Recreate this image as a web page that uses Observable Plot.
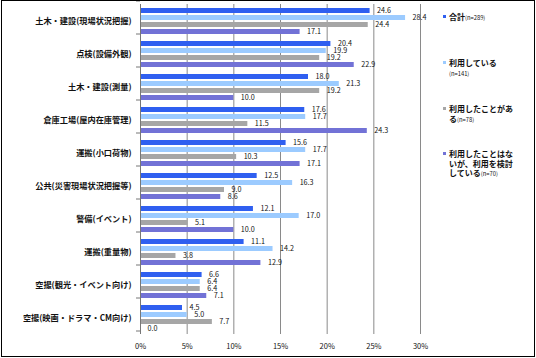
<!DOCTYPE html>
<html><head><meta charset="utf-8">
<script src="https://cdn.jsdelivr.net/npm/d3@7"></script>
<script src="https://cdn.jsdelivr.net/npm/@observablehq/plot@0.6"></script>
<style>
body{margin:0;background:#fff;}
#wrap{position:relative;width:536px;height:358px;overflow:hidden;font-family:"Noto Sans CJK JP",sans-serif;}
#border{position:absolute;left:1px;top:0;width:532px;height:355px;border:1px solid #000;pointer-events:none;}
#chart{position:absolute;left:0;top:0;}
.leg{position:absolute;left:443px;font-size:8px;line-height:9.5px;color:#111;font-weight:bold;}
.leg .m{position:absolute;left:0;top:3px;width:3px;height:3px;}
.leg .t{margin-left:6px;white-space:nowrap;}
.leg small{font-size:5.8px;font-weight:normal;}
</style></head>
<body>
<div id="wrap"><div id="chart"></div><div id="legend"></div><div id="border"></div></div>
<script>
const categories = ["土木・建設(現場状況把握)","点検(設備外観)","土木・建設(測量)","倉庫工場(屋内在庫管理)","運搬(小口荷物)","公共(災害現場状況把握等)","警備(イベント)","運搬(重量物)","空撮(観光・イベント向け)","空撮(映画・ドラマ・CM向け)"];
const series = ["合計(n=289)","利用している(n=141)","利用したことがある(n=78)","利用したことはないが、利用を検討している(n=70)"];
const total       = [24.6, 20.4, 18.0, 17.6, 15.6, 12.5, 12.1, 11.1, 6.6, 4.5];
const using       = [28.4, 19.9, 21.3, 17.7, 17.7, 16.3, 17.0, 14.2, 6.4, 5.0];
const used        = [24.4, 19.2, 19.2, 11.5, 10.3, 9.0, 5.1, 3.8, 6.4, 7.7];
const considering = [17.1, 22.9, 10.0, 24.3, 17.1, 8.6, 10.0, 12.9, 7.1, 0.0];
const xTicks = [0, 5, 10, 15, 20, 25, 30];
const colors = ["#2f5ff0", "#9ccbff", "#a6a6a6", "#7272d6"];
const legendLines = [["合計", "(n=289)"], ["利用している", "", "(n=141)"], ["利用したことがあ", "る", "(n=78)"], ["利用したことはな", "いが、利用を検討", "している", "(n=70)"]];

const valuesBySeries = [total, using, used, considering];
const data = [];
categories.forEach((c, i) => series.forEach((s, j) => data.push({cat: c, series: s, value: valuesBySeries[j][i]})));

const chart = Plot.plot({
  width: 536, height: 358,
  marginLeft: 140, marginRight: 116, marginTop: 1, marginBottom: 21,
  style: {fontFamily: "'Noto Sans CJK JP', sans-serif", fontSize: "8px", background: "transparent"},
  x: {domain: [0, 30], axis: null},
  fy: {domain: categories, padding: 0, axis: null},
  y: {domain: series, axis: null, paddingInner: 0.22, paddingOuter: 0.38, align: 0.55},
  color: {domain: series, range: colors},
  marks: [
    Plot.gridX(xTicks.filter(d => d > 0), {stroke: "#8a8a8a", strokeOpacity: 1}),
    Plot.barX(data, {fy: "cat", y: "series", x: "value", fill: "series"}),
    Plot.text(data, {fy: "cat", y: "series", x: "value", text: d => d.value.toFixed(1), dx: 7, textAnchor: "start", fontSize: 7.2, fill: "#111"}),
    Plot.ruleX([0], {stroke: "#777"}),
    Plot.axisFy({anchor: "left", tickSize: 0, tickPadding: 9, fontSize: 8.2, fontWeight: "bold", label: null, fill: "#111"}),
    Plot.axisX({anchor: "bottom", ticks: xTicks, tickFormat: d => d + "%", tickSize: 0, tickPadding: 9, fontSize: 7.5, label: null, fill: "#111"})
  ]
});
document.getElementById("chart").appendChild(chart);

// boundary ticks between category groups, from the fy scale
try {
  const fy = chart.scale("fy");
  const svg = d3.select(chart.tagName === "svg" ? chart : chart.querySelector("svg"));
  const step = fy.step;
  const y0 = fy.range[0];
  const ys = d3.range(categories.length + 1).map(i => y0 + i * step);
  svg.append("g").selectAll("line").data(ys).join("line")
    .attr("x1", 136).attr("x2", 140).attr("y1", d => d).attr("y2", d => d)
    .attr("stroke", "#777");
} catch (e) {}

const leg = document.getElementById("legend");
const tops = [12, 58, 104, 149];
legendLines.forEach((lines, i) => {
  const div = document.createElement("div");
  div.className = "leg";
  div.style.top = tops[i] + "px";
  const m = document.createElement("div");
  m.className = "m"; m.style.background = colors[i];
  div.appendChild(m);
  const t = document.createElement("div");
  t.className = "t";
  const n = lines[lines.length - 1];
  const main = lines.slice(0, -1);
  t.innerHTML = main.map((l, k) => k === main.length - 1 ? (l ? l + "<small>" + n + "</small>" : "<small>" + n + "</small>") : l).join("<br>");
  div.appendChild(t);
  leg.appendChild(div);
});
</script>
</body></html>
